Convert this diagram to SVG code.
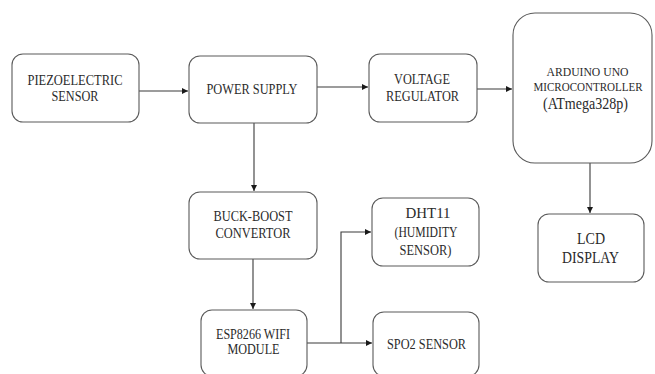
<svg xmlns="http://www.w3.org/2000/svg" width="655" height="374" viewBox="0 0 655 374">
<defs>
<style>
.box{fill:#ffffff;stroke:#5a5a5a;stroke-width:1.1}
.t{font-family:"Liberation Serif","Times New Roman",serif;font-size:15.5px;fill:#2a2a2a;text-anchor:middle}
.s{font-size:12.3px}
.b{font-size:17px}
.l{font-size:17px}
.m{font-size:14.5px}
.c{fill:none;stroke:#3a3a3a;stroke-width:1.1}
</style>
<marker id="ah" markerWidth="8" markerHeight="8" refX="6" refY="3" orient="auto" markerUnits="userSpaceOnUse">
<path d="M0,0 L6,3 L0,6 Z" fill="#1a1a1a"/>
</marker>
</defs>
<rect width="655" height="374" fill="#ffffff"/>
<g id="connectors">
<path class="c" d="M139,91 L188,91" marker-end="url(#ah)"/>
<path class="c" d="M317,87 L368,87" marker-end="url(#ah)"/>
<path class="c" d="M477,89 L512,89" marker-end="url(#ah)"/>
<path class="c" d="M590,163 L590,213" marker-end="url(#ah)"/>
<path class="c" d="M254,123 L254,191" marker-end="url(#ah)"/>
<path class="c" d="M253,259 L253,309" marker-end="url(#ah)"/>
<path class="c" d="M307,343 L372,343" marker-end="url(#ah)"/>
<path class="c" d="M341,343 L341,232 L371,232" marker-end="url(#ah)"/>
</g>
<g id="piezo">
<rect class="box" x="12" y="54" width="127" height="68" rx="11"/>
<text class="t" x="75" y="85" textLength="95" lengthAdjust="spacingAndGlyphs">PIEZOELECTRIC</text>
<text class="t" x="75" y="101" textLength="47" lengthAdjust="spacingAndGlyphs">SENSOR</text>
</g>
<g id="power">
<rect class="box" x="189" y="56" width="128" height="67" rx="11"/>
<text class="t" x="252" y="94" textLength="91" lengthAdjust="spacingAndGlyphs">POWER SUPPLY</text>
</g>
<g id="voltage">
<rect class="box" x="369" y="54" width="108" height="68" rx="11"/>
<text class="t" x="422" y="84" textLength="56" lengthAdjust="spacingAndGlyphs">VOLTAGE</text>
<text class="t" x="422.5" y="100.5" textLength="73" lengthAdjust="spacingAndGlyphs">REGULATOR</text>
</g>
<g id="arduino">
<rect class="box" x="513" y="13" width="139" height="150" rx="22"/>
<text class="t s" x="587.5" y="75.5" textLength="82" lengthAdjust="spacingAndGlyphs">ARDUINO UNO</text>
<text class="t s" x="588" y="91" textLength="109" lengthAdjust="spacingAndGlyphs">MICROCONTROLLER</text>
<text class="t b" x="585.5" y="108.5" textLength="85" lengthAdjust="spacingAndGlyphs">(ATmega328p)</text>
</g>
<g id="lcd">
<rect class="box" x="538" y="214" width="106" height="68" rx="11"/>
<text class="t l" x="591" y="244" textLength="28" lengthAdjust="spacingAndGlyphs">LCD</text>
<text class="t l" x="590.5" y="262.5" textLength="57" lengthAdjust="spacingAndGlyphs">DISPLAY</text>
</g>
<g id="buckboost">
<rect class="box" x="189" y="192" width="128" height="67" rx="11"/>
<text class="t" x="253" y="220.5" textLength="79" lengthAdjust="spacingAndGlyphs">BUCK-BOOST</text>
<text class="t" x="253" y="237.5" textLength="75" lengthAdjust="spacingAndGlyphs">CONVERTOR</text>
</g>
<g id="esp">
<rect class="box" x="201" y="310" width="106" height="66" rx="11"/>
<text class="t m" x="253" y="339" textLength="74" lengthAdjust="spacingAndGlyphs">ESP8266 WIFI</text>
<text class="t m" x="253.5" y="354" textLength="52" lengthAdjust="spacingAndGlyphs">MODULE</text>
</g>
<g id="dht11">
<rect class="box" x="372" y="198" width="107" height="68" rx="11"/>
<text class="t" x="428" y="218" textLength="45" lengthAdjust="spacingAndGlyphs">DHT11</text>
<text class="t" x="426" y="236.5" textLength="63" lengthAdjust="spacingAndGlyphs">(HUMIDITY</text>
<text class="t" x="425.5" y="255" textLength="52" lengthAdjust="spacingAndGlyphs">SENSOR)</text>
</g>
<g id="spo2">
<rect class="box" x="373" y="312" width="106" height="64" rx="11"/>
<text class="t" x="426.5" y="349" textLength="79" lengthAdjust="spacingAndGlyphs">SPO2 SENSOR</text>
</g>
</svg>
